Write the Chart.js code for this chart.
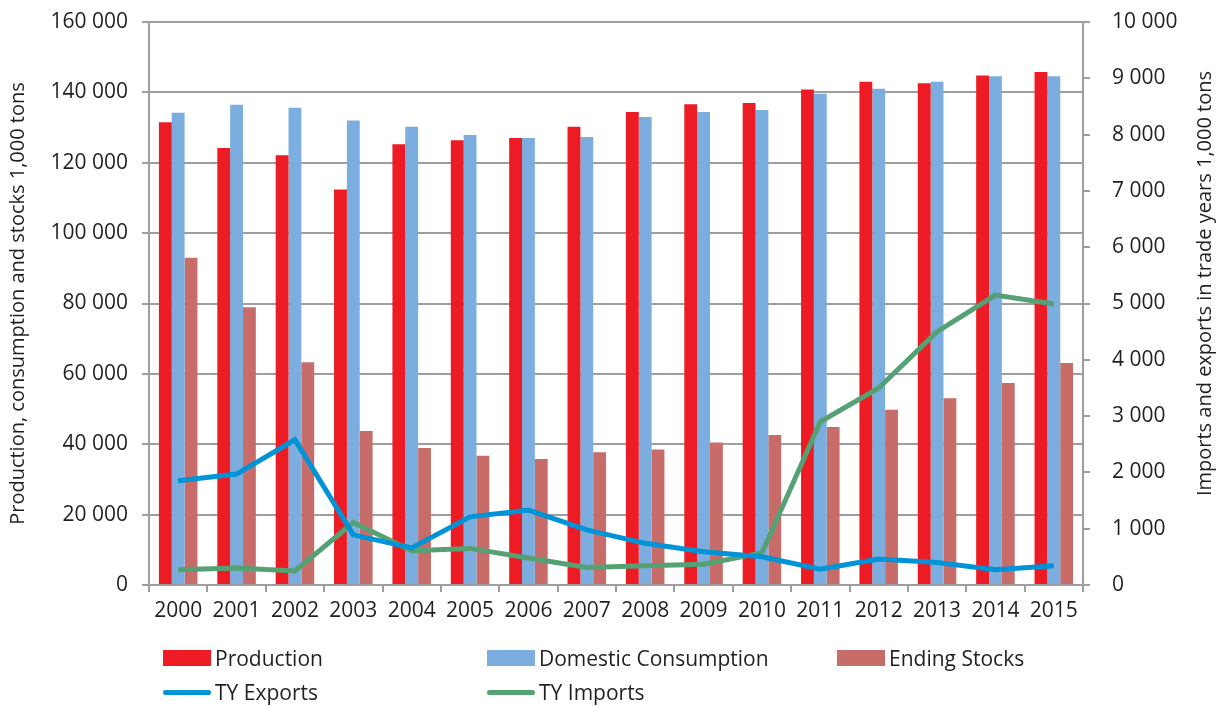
<!DOCTYPE html>
<html>
<head>
<meta charset="utf-8">
<script src="https://cdn.jsdelivr.net/npm/chart.js@4.4.1/dist/chart.umd.min.js"></script>
<style>
  body { margin: 0; background: #fff; }
  #wrap { position: relative; width: 1222px; height: 706px; font-family: "Open Sans", sans-serif; color: #231f20; }
  #chart { position: absolute; left: 0; top: 0; }
  .lg { position: absolute; display: flex; align-items: center; font-size: 21px; white-space: nowrap; }
  .lg .box { width: 48px; height: 16px; margin-right: 4px; }
  .lg .line { width: 48px; height: 5px; border-radius: 3px; margin-right: 4px; }
</style>
</head>
<body>
<div id="wrap">
  <canvas id="chart" width="1222" height="706"></canvas>
  <div id="legend"></div>
</div>
<script>
// values (1,000 tons)
const years = ['2000','2001','2002','2003','2004','2005','2006','2007','2008','2009','2010','2011','2012','2013','2014','2015'];
const production = [131500, 124200, 122100, 112400, 125250, 126400, 127050, 130200, 134400, 136600, 137000, 140800, 143000, 142600, 144800, 145800];
const consumption = [134200, 136500, 135600, 132000, 130200, 127900, 127050, 127350, 133000, 134400, 135000, 139600, 141000, 143000, 144600, 144600];
const endingStocks = [93000, 78950, 63300, 43800, 38900, 36700, 35800, 37700, 38500, 40500, 42600, 44900, 49800, 53100, 57400, 63100];
const tyExports = [1850, 1970, 2580, 890, 660, 1210, 1330, 980, 740, 590, 500, 280, 460, 400, 270, 340];
const tyImports = [270, 300, 250, 1110, 610, 650, 480, 310, 340, 370, 570, 2900, 3500, 4500, 5150, 4990];

const COLORS = {
  production: '#ed1c24',
  consumption: '#7badde',
  stocks: '#c86c6a',
  exports: '#0094d6',
  imports: '#55a173',
  grid: '#9e9e9e',
  text: '#231f20'
};

const FONT = { family: '"Open Sans", sans-serif', size: 21 };
const fmt = v => String(v).replace(/\B(?=(\d{3})+(?!\d))/g, ' ');

// fixed axis boxes so the plot area lands where the reference has it
const fitY = w => s => { s.width = w; s.paddingTop = 0; s.paddingBottom = 0; };

// right axis title reads bottom-to-top in the reference, so draw it here
const rightTitle = {
  id: 'rightTitle',
  afterDraw(chart) {
    const { ctx, chartArea } = chart;
    ctx.save();
    ctx.translate(1205, (chartArea.top + chartArea.bottom) / 2 - 20);
    ctx.rotate(-Math.PI / 2);
    ctx.font = '20px "Open Sans", sans-serif';
    ctx.fillStyle = COLORS.text;
    ctx.textAlign = 'center';
    ctx.textBaseline = 'middle';
    ctx.fillText('Imports and exports in trade years 1,000 tons', 0, 0);
    ctx.restore();
  }
};

const chart = new Chart(document.getElementById('chart'), {
  type: 'bar',
  data: {
    labels: years,
    datasets: [
      { type: 'line', label: 'TY Exports', data: tyExports, yAxisID: 'y1', borderColor: COLORS.exports, backgroundColor: COLORS.exports, borderWidth: 5, pointRadius: 0, tension: 0, order: 0 },
      { type: 'line', label: 'TY Imports', data: tyImports, yAxisID: 'y1', borderColor: COLORS.imports, backgroundColor: COLORS.imports, borderWidth: 5, pointRadius: 0, tension: 0, order: 0 },
      { label: 'Production', data: production, backgroundColor: COLORS.production, order: 1 },
      { label: 'Domestic Consumption', data: consumption, backgroundColor: COLORS.consumption, order: 1 },
      { label: 'Ending Stocks', data: endingStocks, backgroundColor: COLORS.stocks, order: 1 }
    ]
  },
  options: {
    responsive: false,
    animation: false,
    datasets: { bar: { barPercentage: 1, categoryPercentage: 0.66 } },
    layout: { padding: { top: 22, bottom: 86, left: 0, right: 0 } },
    plugins: { legend: { display: false }, tooltip: { enabled: false } },
    scales: {
      x: {
        offset: true,
        grid: { offset: true, drawOnChartArea: false, drawTicks: true, tickLength: 7, color: COLORS.grid, lineWidth: 2 },
        border: { color: COLORS.grid, width: 2 },
        ticks: { color: COLORS.text, font: FONT, padding: 6, maxRotation: 0, autoSkip: false },
        afterFit: s => { s.height = 35; }
      },
      y: {
        position: 'left',
        min: 0, max: 160000,
        ticks: { stepSize: 20000, color: COLORS.text, font: FONT, padding: 14, callback: fmt },
        grid: { color: COLORS.grid, lineWidth: 2, tickLength: 7 },
        border: { color: COLORS.grid, width: 2 },
        title: { display: true, text: 'Production, consumption and stocks 1,000 tons', color: COLORS.text, font: { family: FONT.family, size: 20 }, padding: { top: 6, bottom: 0 } },
        afterFit: fitY(149)
      },
      y1: {
        position: 'right',
        min: 0, max: 10000,
        ticks: { stepSize: 1000, color: COLORS.text, font: FONT, padding: 22, callback: fmt },
        grid: { drawOnChartArea: false, tickLength: 7, color: COLORS.grid, lineWidth: 2 },
        border: { color: COLORS.grid, width: 2 },
        afterFit: fitY(139)
      }
    }
  },
  plugins: [rightTitle]
});

// legend laid out as the reference's two-row grid
const legendPos = {
  'Production': [163, 658],
  'Domestic Consumption': [487, 658],
  'Ending Stocks': [837, 658],
  'TY Exports': [163, 692],
  'TY Imports': [487, 692]
};
const legendEl = document.getElementById('legend');
chart.data.datasets.forEach(ds => {
  const [x, y] = legendPos[ds.label];
  const item = document.createElement('div');
  item.className = 'lg';
  item.style.left = x + 'px';
  item.style.top = (y - 15) + 'px';
  item.style.height = '30px';
  const sw = document.createElement('span');
  sw.className = ds.type === 'line' ? 'line' : 'box';
  sw.style.background = ds.type === 'line' ? ds.borderColor : ds.backgroundColor;
  const txt = document.createElement('span');
  txt.textContent = ds.label;
  item.appendChild(sw);
  item.appendChild(txt);
  legendEl.appendChild(item);
});
</script>
</body>
</html>
